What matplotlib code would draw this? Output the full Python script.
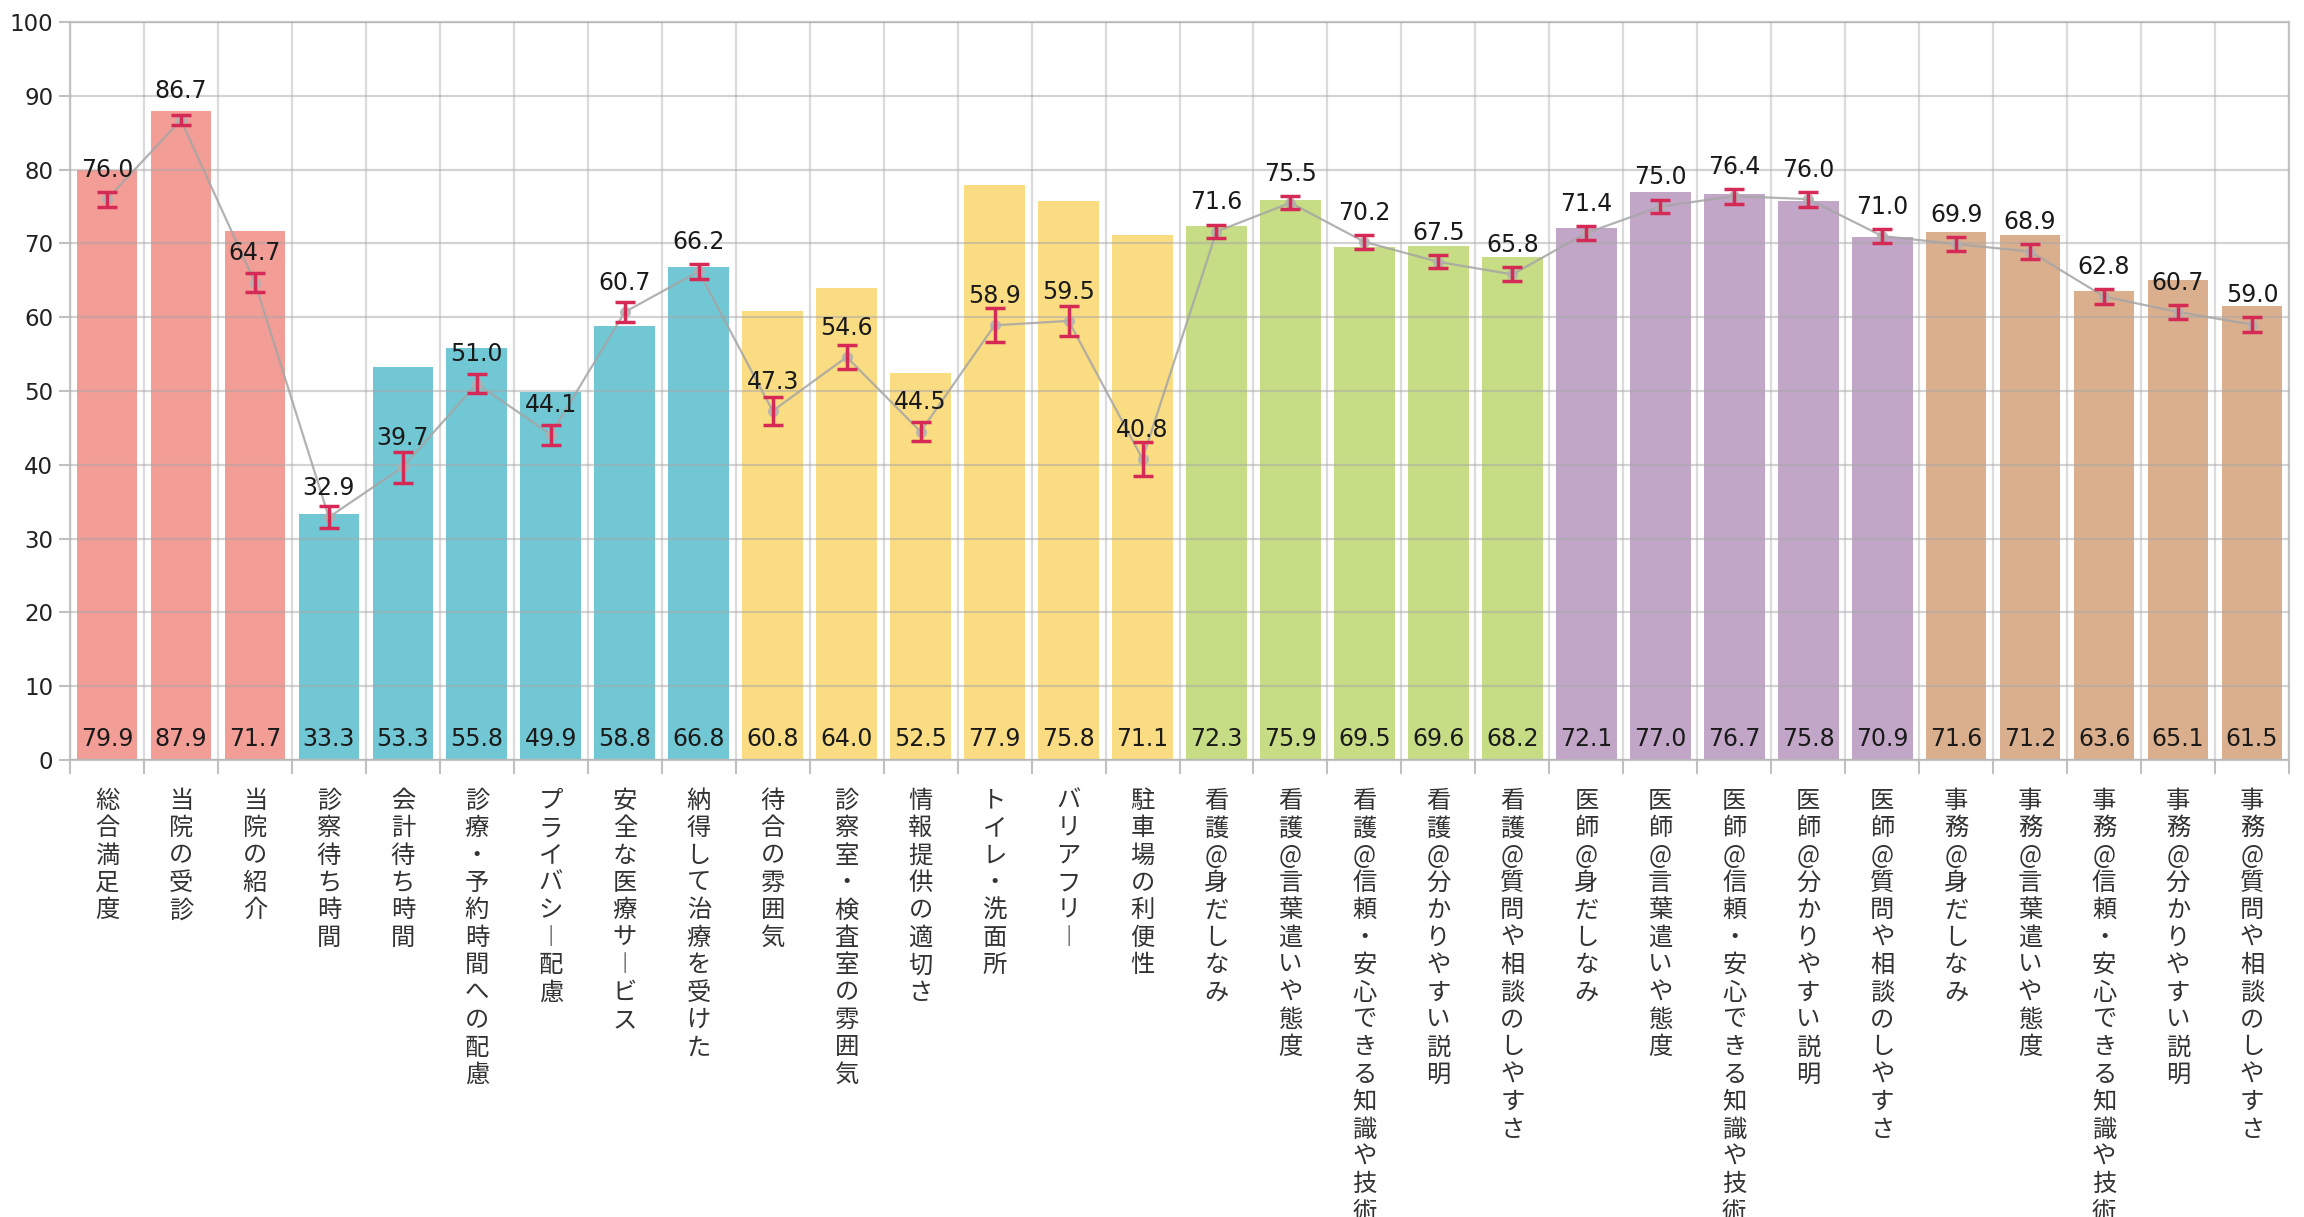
import numpy as np
import matplotlib.pyplot as plt

plt.rcParams['font.family'] = ['DejaVu Sans', 'Noto Sans CJK JP']

# categories (written horizontally, stacked vertically when drawn)
categories = ["総合満足度", "当院の受診", "当院の紹介",
              "診察待ち時間", "会計待ち時間", "診療・予約時間への配慮", "プライバシー配慮",
              "安全な医療サービス", "納得して治療を受けた",
              "待合の雰囲気", "診察室・検査室の雰囲気", "情報提供の適切さ", "トイレ・洗面所",
              "バリアフリー", "駐車場の利便性",
              "看護@身だしなみ", "看護@言葉遣いや態度", "看護@信頼・安心できる知識や技術",
              "看護@分かりやすい説明", "看護@質問や相談のしやすさ",
              "医師@身だしなみ", "医師@言葉遣いや態度", "医師@信頼・安心できる知識や技術",
              "医師@分かりやすい説明", "医師@質問や相談のしやすさ",
              "事務@身だしなみ", "事務@言葉遣いや態度", "事務@信頼・安心できる知識や技術",
              "事務@分かりやすい説明", "事務@質問や相談のしやすさ"]

bar_vals = [79.9, 87.9, 71.7, 33.3, 53.3, 55.8, 49.9, 58.8, 66.8, 60.8,
            64.0, 52.5, 77.9, 75.8, 71.1, 72.3, 75.9, 69.5, 69.6, 68.2,
            72.1, 77.0, 76.7, 75.8, 70.9, 71.6, 71.2, 63.6, 65.1, 61.5]

line_vals = [76.0, 86.7, 64.7, 32.9, 39.7, 51.0, 44.1, 60.7, 66.2, 47.3,
             54.6, 44.5, 58.9, 59.5, 40.8, 71.6, 75.5, 70.2, 67.5, 65.8,
             71.4, 75.0, 76.4, 76.0, 71.0, 69.9, 68.9, 62.8, 60.7, 59.0]

err_vals = [1.0, 0.7, 1.3, 1.45, 2.1, 1.3, 1.35, 1.35, 1.0, 1.9,
            1.6, 1.3, 2.3, 2.0, 2.3, 0.9, 0.9, 0.9, 0.9, 0.95,
            1.0, 0.9, 1.0, 1.0, 1.0, 0.95, 1.0, 1.0, 1.0, 1.05]

group_sizes = [3, 6, 6, 5, 5, 5]
group_colors = ['#F29D96', '#72C7D5', '#FADC82', '#C6DC85', '#C2A6C8', '#DAAF8E']

colors = []
for size, c in zip(group_sizes, group_colors):
    colors += [c] * size


def vertical(s):
    # stack characters; long vowel mark turns vertical
    return "\n".join(s.replace("ー", "︱"))


n = len(categories)
x = np.arange(n)

fig = plt.figure(figsize=(23.04, 12.17), dpi=100)
ax = fig.add_axes([70/2304, 1 - 760/1217, (2289 - 70)/2304, (760 - 22)/1217])

ax.bar(x, bar_vals, width=0.82, color=colors, zorder=1)

ax.set_axisbelow(False)
ax.set_xticks(x)
ax.set_xticks(np.arange(n + 1) - 0.5, minor=True)
ax.set_xticklabels([vertical(c) for c in categories],
                   family=['Noto Sans CJK JP', 'DejaVu Sans'], fontsize=17.5,
                   linespacing=1.07, va='top', color='#333333')
ax.grid(which='minor', axis='x', color='#b8b8b8', lw=1.6, alpha=0.5)
ax.grid(which='major', axis='y', color='#a8a8a8', lw=1.6, alpha=0.5)
ax.tick_params(axis='x', which='major', length=0, pad=20)
ax.tick_params(axis='x', which='minor', length=10, width=1.5, color='#c0c0c0')
ax.tick_params(axis='y', length=8, width=1.5, color='#c0c0c0', labelsize=16.5,
               labelcolor='#222222', pad=4)

ax.set_xlim(-0.5, n - 0.5)
ax.set_ylim(0, 100)
ax.set_yticks(np.arange(0, 101, 10))
for sp in ax.spines.values():
    sp.set_color('#c8c8c8')
    sp.set_linewidth(1.6)

ax.plot(x, line_vals, color='#a5a5a5', lw=1.6, alpha=0.85, zorder=3,
        marker='o', ms=8, mfc='#b0b0b0', mec='none')
ax.errorbar(x, line_vals, yerr=err_vals, fmt='none', ecolor='#D62A56',
            elinewidth=2.5, capsize=7, capthick=2.5, zorder=4)

for i in range(n):
    ax.annotate(f"{line_vals[i]:.1f}", (x[i], line_vals[i]), xytext=(0, 21),
                textcoords='offset points', ha='center', va='center',
                fontsize=17, color='#1a1a1a', zorder=5)
    ax.text(x[i], 2.9, f"{bar_vals[i]:.1f}", ha='center', va='center',
            fontsize=17, color='#1a1a1a', zorder=5)

fig.savefig("out.png", dpi=100)
